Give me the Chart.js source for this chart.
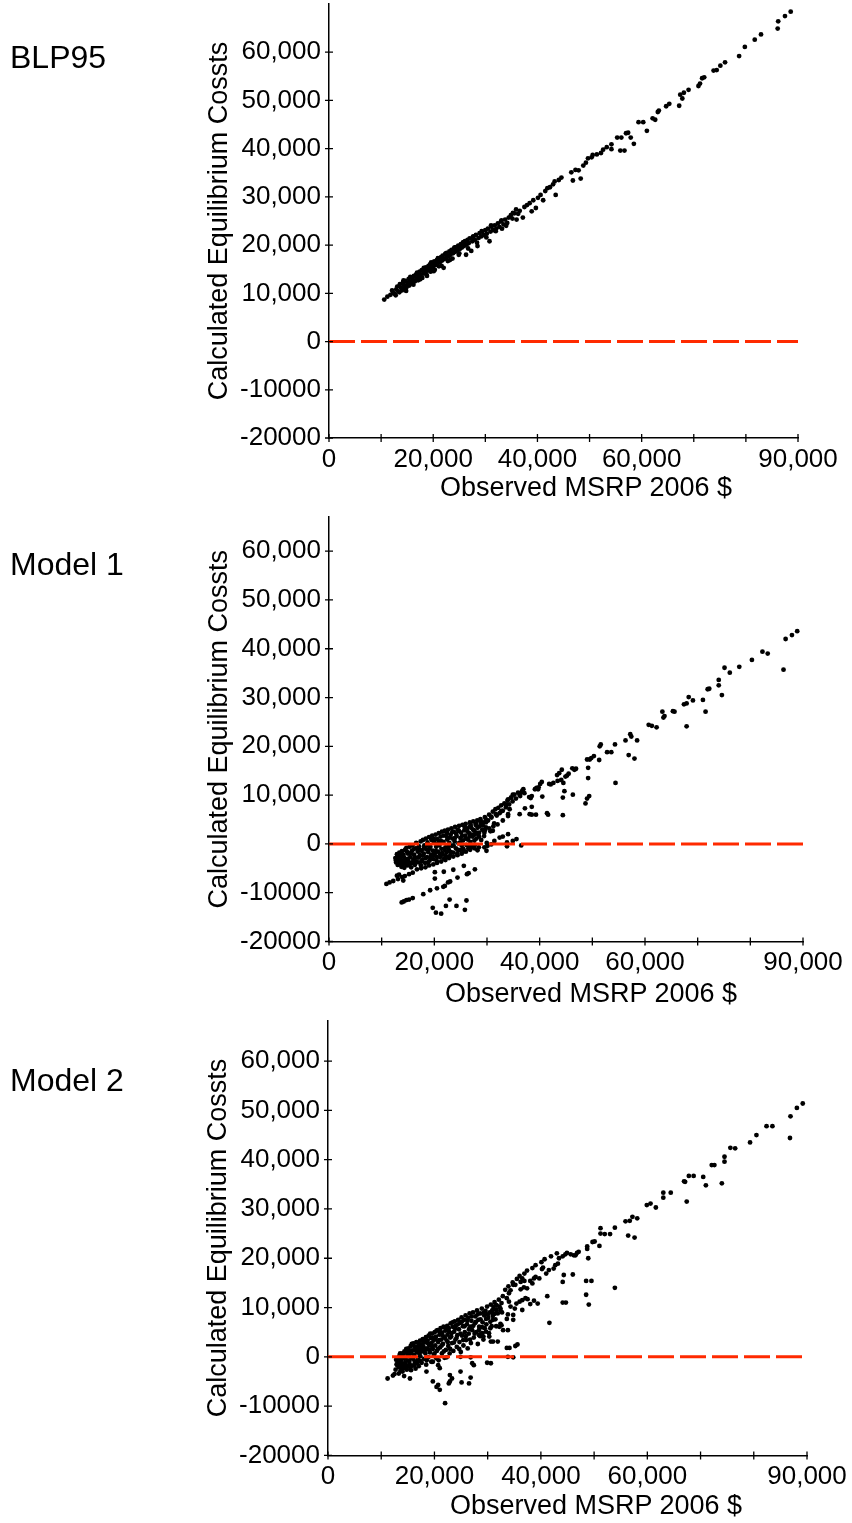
<!DOCTYPE html>
<html>
<head>
<meta charset="utf-8">
<script src="https://cdn.jsdelivr.net/npm/chart.js@4.4.1/dist/chart.umd.min.js"></script>
<style>
html,body{margin:0;padding:0;background:#fff;}
body{width:852px;height:1523px;position:relative;overflow:hidden;font-family:"Liberation Sans",Arial,Helvetica,sans-serif;color:#000;}
canvas{position:absolute;left:0;}
.lbl{position:absolute;left:10px;font-size:32px;line-height:1;white-space:nowrap;}
.xt{position:absolute;width:400px;font-size:27px;line-height:1;text-align:center;white-space:nowrap;}
</style>
</head>
<body>
<canvas id="c1" width="852" height="505" style="top:0px"></canvas>
<canvas id="c2" width="852" height="505" style="top:505px"></canvas>
<canvas id="c3" width="852" height="513" style="top:1010px"></canvas>
<div class="lbl" style="top:41px">BLP95</div>
<div class="lbl" style="top:548px">Model 1</div>
<div class="lbl" style="top:1064px">Model 2</div>
<div class="xt" style="left:386px;top:474px">Observed MSRP 2006 $</div>
<div class="xt" style="left:391px;top:980px">Observed MSRP 2006 $</div>
<div class="xt" style="left:396px;top:1492px">Observed MSRP 2006 $</div>
<script>
// ---------------- DATA ----------------
const yTitle = 'Calculated Equilibrium Cossts';
const xTickValues = [0,10000,20000,30000,40000,50000,60000,70000,80000,90000];
const xLabelValues = [0,20000,40000,60000,90000];
const yTickValues = [-20000,-10000,0,10000,20000,30000,40000,50000,60000];
const zeroLine = [[0,0],[90000,0]];

// BLP95: [observed MSRP, calculated cost]
const blp95Points = [
[10600,8700],[11200,9300],[11800,9700],[12300,10100],[12600,9900],[12900,10800],[13100,11400],[13300,10400],[13600,11900],[13800,11200],
[14000,10600],[14200,12300],[14400,11700],[14500,10900],[14700,12600],[14900,11300],[15100,12100],[15300,13000],[15400,11600],[15600,12400],
[15800,13300],[16000,12000],[16100,12800],[16300,13600],[16500,12500],[16700,13900],[16800,13100],[17000,14200],[17100,12700],[17300,13500],
[17400,14500],[17600,13800],[17800,14800],[17900,13200],[18100,14100],[18300,15100],[18400,14400],[18600,15400],[18700,13900],[18900,14700],
[19100,15700],[19200,15000],[19400,16000],[19500,14500],[19700,15300],[19900,16300],[20000,15600],[20200,16600],[20300,14900],[20500,15900],
[20700,16900],[20800,16200],[21000,17200],[21100,15600],[21300,16500],[21500,17500],[21700,16800],[21800,17800],[22000,15300],[22100,17100],
[22300,18100],[22500,17400],[22600,18400],[22800,16700],[23000,17700],[23100,18700],[23300,18000],[23500,19000],[23700,17200],[23800,18300],
[24000,19300],[24200,18600],[24400,19600],[24600,18900],[24800,19900],[25000,18300],[25100,19200],[25300,20200],[25500,19500],[25700,20500],
[25900,19800],[26100,20800],[26300,18000],[26400,20100],[26600,21100],[26800,20400],[27000,21400],[27300,18800],[27500,20800],[27700,21800],
[28000,21100],[28200,22100],[28500,19800],[28700,21500],[28900,22500],[29200,21800],[29400,22800],[29700,22100],[30000,23100],[30300,22400],
[30500,23400],[30800,20800],[31000,22800],[31200,23800],[31500,23100],[31800,24100],[32100,23400],[32400,24500],[32700,23800],[33000,24900],
[33200,23400],[33500,24300],[33800,25300],[34200,24600],[34500,25700],[34900,26200],[35200,25500],[35600,26600],[35900,27400],[36300,26500],
[36600,27100],[37200,25700],[37500,27900],[38000,28300],[38500,28700],[38900,27000],[39200,29300],[39700,27700],[40100,29800],[40600,30400],
[41100,29300],[41500,31200],[41900,31800],[42400,32000],[43000,32600],[43300,33200],[43500,30400],[44100,33500],[44600,34000],[46500,35100],
[46800,33400],[47300,35600],[47900,35500],[48300,33800],[48800,36500],[49300,37100],[49700,38000],[50400,38200],[50600,38700],[51400,38800],
[52200,39100],[52600,39800],[53300,40300],[54200,40900],[54200,39900],[55300,42300],[55900,39600],[56700,39600],[56100,42300],[57000,43200],
[57400,43300],[57900,42300],[58500,41000],[59400,45500],[60300,45500],[61000,43700],[62100,46300],[62600,46000],[63100,47600],[63300,47900],
[64700,48800],[65300,49300],[67200,48900],[67800,50400],[67400,51200],[68100,51600],[69000,52200],[70900,53000],[71200,53500],[71600,54600],
[72000,54800],[73800,56200],[74400,56300],[75100,57200],[76000,57900],[78700,59200],[79800,61100],[81700,62600],[82900,63700],[86100,64900],
[86200,66400],[87500,67500],[88600,68400],
[12100,10600],[12800,9600],[13500,10200],[14300,12700],[14800,10500],[15600,13400],[16200,11800],[16900,14300],[17500,12900],[18200,15300],
[18800,13600],[19600,16400],[20100,14600],[20900,17300],[21600,15700],[22400,18300],[23200,16900],[24100,19500],[24900,18000],[25800,20600],
[26700,19300],[27600,21700],[28400,20500],[29300,22900],[30200,21600],[31100,24100],[32000,22900],[33100,25100],[34000,24000],[35300,26700],
[36000,25300]
];

// Model 1
const model1Points = [
[88900,43600],[87900,42800],[86700,42000],[86300,35700],[83300,39000],[82300,39400],[80300,37700],[77900,36300],[75100,36100],[76100,35100],
[74000,33600],[74000,32500],[74600,30500],[71900,31700],[72200,31800],[71000,29500],[71500,27100],[69100,29400],[68300,30100],[67400,28600],
[67900,28800],[67900,24100],[65300,27200],[65600,27100],[63300,27100],[63500,25900],[63700,26200],[60700,24400],[61300,24200],[62200,23900],
[57200,22500],[57400,22000],[58500,21200],[56300,21200],[56900,18200],[58000,17500],[54300,20400],[54400,12500],[52800,18800],[53600,18800],
[51400,20000],[51600,20400],[51300,17200],[50300,18000],[49800,17600],[49500,17300],[49000,17300],[49200,15600],[49200,13500],[49400,9800],
[49000,9300],[48700,8300],[46900,15400],[46600,15200],[46200,15500],[45500,14400],[45200,14000],[44900,13800],[44200,15200],[43700,14500],
[43300,14100],[44100,13100],[43400,12900],[44500,12500],[44700,10800],[44400,9500],[46300,10100],[44400,5900],[42600,12500],[42100,12200],
[41800,12300],[40400,12700],[40100,12300],[39800,11600],[39400,11500],[39700,11200],[39100,11200],[41600,6000],[41400,6300],[40500,9700],
[38500,9800],[38300,9400],[38000,9600],[36900,11200],[36600,10600],[36200,10000],[38500,7600],[37200,7300],[39300,6000],[38500,6000],
[38100,6100],[36200,6100],[34900,10100],[34600,9500],[34000,9100],[33600,8100],[34300,7100],[34000,6100],
[36500,-300],[35600,1000],[34900,600],[33800,300],[33800,-500],[34000,2000],[33000,1500],[32400,1300],[31400,600],[30800,-100],
[30100,-400],[29500,-700],[28200,-1300],[29900,-1400],[31100,2700],
[32700,6700],[31700,6100],[30800,5600],[29800,5000],[28800,4700],[27900,4100],[26900,3900],[34000,5700],[33000,4800],[32000,4000],
[31200,3600],[30400,3200],[29600,2800],[28500,2300],[27600,1900],[26700,1500],
[10900,-8200],[11500,-7900],[12200,-7600],[13100,-7200],[13900,-6800],[14400,-6600],[15200,-6200],[15900,-5900],[16700,-5200],[17500,-5000],
[18300,-4800],[19000,-4400],[19800,-4200],[20500,-3900],[21300,-3600],[22100,-3300],[22800,-2900],[23600,-2600],[24400,-2300],[25200,-2000],
[26000,-1600],[26800,-1200],[27600,-900],
[13800,-12000],[14200,-11800],[14700,-11500],[15200,-11400],[15900,-11100],[17900,-10300],[19200,-9500],[20500,-9100],[21700,-8800],[22000,-8600],
[22600,-7900],[23000,-7700],[24400,-6900],[26200,-6200],[26500,-6000],[27700,-5200],
[19700,-13100],[20300,-14100],[21300,-14300],[22200,-12700],[22900,-11400],[24200,-12700],[25800,-13500],[26100,-11600],
[20100,-5800],[20100,-7100],[21800,-5700],[23600,-5300],[25600,-4500],[14100,-7500],[13300,-6300],[12900,-6500],
[12600,-2900],[12750,-3800],[12900,-2100],[13050,-4300],[13200,-3200],[13350,-1800],[13450,-3900],
[13600,-2600],[13750,-4700],[13850,-1500],[14000,-3500],[14150,-2200],[14300,-4900],[14450,-1200],
[14600,-3100],[14700,-800],[14850,-4400],[15000,-2000],[15150,-3700],[15300,-600],[15450,-2700],
[15600,-4800],[15700,-1500],[15850,-300],[16000,-3300],[16150,-2200],[16300,-4300],[16450,-900],
[16550,200],[16700,-2800],[16850,-1600],[16950,-3800],[17100,-500],[17250,-2300],[17400,500],[17450,-4400],
[17600,-1400],[17750,-3200],[17850,800],[18000,-2000],[18100,-300],[18250,-3900],[18400,1100],[18450,-1100],
[18600,-2700],[18700,300],[18850,-1700],[19000,1400],[19100,-3400],[19250,-600],[19400,-2300],[19450,900],
[19600,1700],[19700,-1400],[19850,-3100],[19950,400],[20100,-2000],[20250,1900],[20350,-600],[20450,-3500],
[20600,1000],[20700,-1600],[20850,2200],[20950,-300],[21100,-2700],[21200,1500],[21350,-1000],[21450,2500],
[21600,-2200],[21750,400],[21850,-3000],[22000,2700],[22100,-700],[22250,1600],[22350,-1700],[22450,900],
[22600,2900],[22750,-1200],[22850,200],[23000,-2400],[23100,1900],[23250,3200],[23350,-400],[23450,1100],
[23600,-1800],[23700,2500],[23850,500],[23950,3500],[24100,-900],[24250,1600],[24350,-2000],[24450,2900],
[24600,100],[24700,3700],[24850,-1300],[24950,1200],[25100,2300],[25200,-400],[25350,3900],[25450,700],
[25600,-1500],[25700,2800],[25850,1700],[25950,4100],[26100,-200],[26250,3200],[26350,900],[26450,-900],
[26600,2200],[26750,4400],[26850,400],[27000,3300],[27100,-600],[27250,1500],[27400,4600],
[27600,2700],[27700,-200],[27850,3900],[28000,1100],[28150,4800],[28300,2000],[28450,-700],
[28600,3600],[28750,5100],[28900,800],[29100,2900],[29250,4400],[29450,1600],[29600,5500],[29800,3400],[29950,200],
[30200,4800],[30400,6000],[30650,2600],[30850,5400],[31100,6600],[31350,4200],[31600,7100],[31850,5800],[32150,7400],[32400,6300],
[32700,7900],[33000,6800],[33300,8300],[33600,7500],[33900,8900],[34200,8100],[34550,9500],[34850,8700],[35200,10100],[35500,9300],
[35900,10500],[36300,9800],[36700,10900],[37100,10400],
[12700,-3400],[13000,-2500],[13300,-4000],[13550,-3200],[13800,-2100],[14050,-4200],[14250,-2800],[14500,-3900],[14800,-1600],[15050,-3000],
[15250,-4300],[15500,-1900],[15750,-3900],[16050,-1100],[16250,-2800],[16500,-3600],[16800,-900],[17050,-2800],[17300,-1300],[17550,-3600],
[17800,-2400],[18050,-800],[18350,-2900],[18550,-300],[18800,-3800],[19050,-1000],[19300,-2900],[19550,800],[19800,-2300],[20000,1000],
[20300,-1500],[20500,-2700],[20750,200],[21000,-2000],[21250,600],[21500,-1900],[21700,1700],[21950,-1200],[22200,-2500],[22400,2200],
[22650,-600],[22900,1300],[23150,-1700],[23400,2400],[23650,-300],[23900,1200],[24150,2100],[24400,-1200],[24650,2700],[24900,300],
[25250,1600],[25500,-1000],[25750,3500],[26000,1100],[26300,2500],[26550,-300],[26800,3600],[27050,1900],[27350,2900],[27600,700],
[27900,2300],[28200,3300],[28500,1500],[28800,4300],[29200,3800],[29500,2300],[29800,4400]
];

// Model 2
const model2Points = [
[89200,51400],[88100,50500],[86900,48800],[86800,44400],[83500,46800],[82400,46800],[80500,45000],[79300,43500],[76500,42300],[75600,42400],
[74500,40600],[74500,39600],[72600,38900],[72100,38900],
[70500,36500],[71000,34800],[74000,35200],[67800,36700],[68700,36700],[66900,35600],[67100,35500],[67400,31500],[64400,33300],[63000,33300],
[63000,32300],[61600,30300],[60600,31100],[59900,30800],[58100,28100],[57200,28400],[56700,27600],[55900,27500],[56400,24600],[57600,24200],
[53900,26200],[53000,24900],[52000,24900],[51200,26100],[51200,25000],[51000,22500],[50100,23400],[49700,23300],[48700,22400],[48700,21900],
[48900,20000],[53900,14000],[48500,15400],[49500,15400],[48500,12600],[49000,10600],[47100,21300],[46800,21100],[46500,20600],[46200,20600],
[45600,20800],[44900,21100],[44600,20800],[44100,20400],[43400,20000],[43200,18900],[42700,18600],[42400,17900],[44300,16600],[46000,16700],
[44100,15200],[44100,11000],[41500,17600],[41000,16900],[40400,18100],[40200,17800],[41200,12300],[41600,6900],[39700,15900],[39000,16200],
[38700,15900],[38400,14900],[38000,15400],[39400,10800],[38700,11400],[38000,10700],[37500,11700],[37100,11900],[36500,11500],[37400,13900],
[36800,14100],[36200,13700],[36900,15400],[36500,15900],[36200,15200],[36500,9500],[36000,11200],[35200,14600],[34800,14600],[34300,13500],
[34000,12900],[33600,11900],[34000,11200],[34300,10200],[33800,8600],[33600,7700],[32900,5400],[32400,9800],[31600,10500],[31100,10200],
[30800,9100],[31600,6200],[32400,6700],[31000,7500],[30500,7100],[30600,3100],[31000,3100],[29900,-1200],[33600,1800],[34100,1800],
[35200,2200],[35600,2500],[33800,0],[29200,4100],[28600,4200],[44700,11000],
[11200,-4400],[12200,-3800],[12500,-3500],[13300,-3400],[14000,-3000],[14300,-3900],[14600,-2300],[14900,-2000],[15400,-4400],[15600,-2700],
[16200,-1700],[13000,-1700],[13700,-1300],[13000,-300],[13500,-100],[14000,700],[14600,1000],[14900,700],[16500,1400],[16900,1000],
[17500,1700],[16200,200],[16900,-600],[18500,-3000],[19700,-1000],[20700,-1700],[21000,-2300],[19700,-5000],[20400,-6100],[20700,-5700],
[21000,-6700],[22000,-9400],[22900,-3700],[23300,-4400],[22700,-5400],[22900,-5000],[24900,-3000],[25100,-5200],[26500,-5400],[26800,-4200],
[27100,-1300],[27400,-1700],[26800,-100],[24900,0],[22300,-100],[30600,-1300],[34800,-100],[31900,3100],[30300,4100],[28400,4400],
[29000,4800],[29700,5100],[32200,6100],[32600,6400],[33800,5400],[34800,7500],[34800,8500],[35100,9800],[35400,10800],
[12700,-2600],[12900,-1500],[13100,-400],[13300,-2100],[13450,300],
[13600,-2900],[13700,-800],[13900,-1700],[14050,400],[14200,-2300],[14350,1100],[14450,-400],
[14600,-1500],[14750,900],[14800,-2600],[14950,200],[15100,1700],[15250,-900],[15400,600],[15450,-2100],
[15550,2200],[15700,-300],[15800,1300],[15900,-1800],[16050,2700],[16150,400],[16300,-1000],[16400,1800],[16450,-2400],
[16600,3000],[16700,900],[16850,-600],[16900,2100],[17050,-1900],[17150,1500],[17300,3300],[17350,100],[17450,2500],
[17600,-1200],[17700,1100],[17800,3600],[17950,2000],[18050,-400],[18150,2900],[18300,700],[18400,4000],[18450,-1600],
[18600,1700],[18700,3300],[18850,-100],[18900,4300],[19050,2300],[19150,900],[19300,3800],[19400,-1000],[19450,2800],
[19600,4700],[19700,1600],[19850,3300],[19900,400],[20050,5000],[20150,2300],[20300,4100],[20350,-300],[20450,1200],
[20600,5400],[20700,3000],[20800,-700],[20950,4500],[21050,1900],[21150,5800],[21300,3500],[21400,700],[21450,4900],
[21600,2600],[21700,6100],[21850,4000],[21900,-200],[22050,5300],[22150,1400],[22300,3300],[22400,6300],[22450,4500],
[22600,2200],[22700,5800],[22850,700],[22950,3900],[23050,6800],[23200,4800],[23300,2800],[23450,6100],
[23550,1200],[23700,5100],[23800,7200],[23950,3500],[24050,6400],[24200,2000],[24300,4400],[24450,7500],
[24600,5600],[24700,3000],[24850,6900],[24950,1000],[25100,8000],[25200,4300],[25350,6200],[25450,2300],
[25600,7500],[25700,5000],[25850,8400],[25950,3400],[26100,6600],[26250,1700],[26350,7900],[26450,4700],
[26600,8800],[26750,6100],[26850,2800],[26950,7300],[27100,5400],[27250,9000],[27400,3900],
[27600,6800],[27700,8200],[27850,5000],[28000,9400],[28150,2600],[28250,7500],[28400,6100],
[28600,8800],[28700,4600],[28900,9800],[29050,7000],[29200,3500],[29350,8400],[29450,5800],
[29600,9300],[29750,6600],[29900,10200],[30100,7900],[30250,4800],[30400,9000],
[30600,10600],[30750,6200],[30950,8300],[31100,9700],[31300,11100],[31450,7600],
[31700,10400],[31900,8800],[32100,11600],[32400,9400],[32600,10900],[32850,12300],
[33300,13600],[33900,14300],[34700,15100],[35500,15800],[36000,16400],[36900,16900],[37400,17500],[38400,18000],[39000,18600],[40100,19200],
[40700,19800],[41900,20400],[43000,21000],
[12800,-600],[13250,-1200],[13550,700],[13800,-2200],[14100,-300],[14400,-1300],[14700,1600],[15000,-700],[15200,1000],[15350,-1500],
[15650,800],[15750,2600],[16000,-400],[16250,2100],[16550,1300],[16750,-1300],[17000,2800],[17200,600],[17400,-900],[17650,2400],
[17900,3100],[18200,1300],[18350,3500],[18550,-700],[18800,2700],[19000,1400],[19200,4700],[19550,2100],[19750,3800],[20000,700],
[20200,3600],[20400,5300],[20650,1600],[20900,3400],[21100,5000],[21350,2300],[21550,4300],[21750,1100],[22000,3800],[22200,5700],
[22500,3000],[22750,5100],[22950,1600],[23150,4100],[23400,7000],[23650,2900],[23900,5700],[24150,3800],[24400,6600],[24650,1600],
[24900,4700],[25150,7100],[25400,3400],[25650,6200],[25900,4200],[26200,7300],[26500,5600],[26700,3500],[27000,8200],[27300,6300],
[27550,4700],[27800,7100],[28100,8600],[28350,5400],[28650,7600],[28950,6000],[29300,9000],[29700,7700],[30050,8600],[30500,5800],
[30850,9400],[31250,8700],[31600,9500],[32200,10200],[32700,9000]
];

// ---------------- RENDERING ----------------
Chart.defaults.font.family = '"Liberation Sans", Arial, Helvetica, sans-serif';
Chart.defaults.font.size = 26;
Chart.defaults.color = '#000';

const fmtY = v => v > 0 ? Number(v).toLocaleString('en-US') : String(v);
const fmtX = v => xLabelValues.includes(v) ? Number(v).toLocaleString('en-US') : '';

const crossTicks = {
  id: 'crossTicks',
  afterDraw(chart) {
    const ctx = chart.ctx, xs = chart.scales.x, ys = chart.scales.y;
    ctx.save();
    ctx.strokeStyle = '#000';
    ctx.lineWidth = 1.3;
    ctx.beginPath();
    xs.ticks.forEach(t => {
      const px = xs.getPixelForValue(t.value);
      ctx.moveTo(px, xs.top - 4); ctx.lineTo(px, xs.top + 4);
    });
    ys.ticks.forEach(t => {
      const py = ys.getPixelForValue(t.value);
      ctx.moveTo(ys.right - 4, py); ctx.lineTo(ys.right + 4, py);
    });
    ctx.stroke();
    ctx.restore();
  }
};

function makePanel(id, points, L) {
  const canvas = document.getElementById(id);
  const H = canvas.height;
  return new Chart(canvas, {
    type: 'scatter',
    data: {
      datasets: [
        { type: 'line', data: zeroLine.map(([x, y]) => ({x, y})), borderColor: '#ff2a00', borderWidth: 3,
          borderDash: [26, 6], pointRadius: 0, fill: false, order: 0, clip: false },
        { data: points.map(([x, y]) => ({x, y})), backgroundColor: '#000', borderWidth: 0,
          pointRadius: 2.4, order: 1 }
      ]
    },
    options: {
      responsive: false, animation: false, devicePixelRatio: 1,
      layout: { padding: { left: L.left, top: L.areaTop, right: 852 - L.areaRight, bottom: 0 } },
      plugins: { legend: { display: false }, tooltip: { enabled: false } },
      scales: {
        x: {
          type: 'linear', min: 0, max: 90000,
          grid: { display: false, drawTicks: false },
          border: { display: true, color: '#000', width: 1.5 },
          ticks: { autoSkip: false, maxRotation: 0, padding: 6, callback: fmtX },
          afterBuildTicks: s => { s.ticks = xTickValues.map(v => ({value: v})); },
          afterFit: s => { s.height = H - L.areaBottom; s.paddingLeft = 0; s.paddingRight = 0; }
        },
        y: {
          type: 'linear', min: -20000, max: L.yMax,
          grid: { display: false, drawTicks: false },
          border: { display: true, color: '#000', width: 1.5 },
          ticks: { autoSkip: false, padding: 8, callback: fmtY },
          afterBuildTicks: s => { s.ticks = yTickValues.map(v => ({value: v})); },
          title: { display: true, text: yTitle, padding: 0, font: { size: 27 } },
          afterFit: s => { s.width = L.areaLeft - L.left; s.paddingTop = 0; s.paddingBottom = 0; }
        }
      }
    },
    plugins: [crossTicks]
  });
}

makePanel('c1', blp95Points,  { left: 203, areaLeft: 329, areaRight: 798, areaTop: 4,    areaBottom: 438,   yMax: 70000 });
makePanel('c2', model1Points, { left: 203, areaLeft: 329, areaRight: 803, areaTop: 12,   areaBottom: 436.5, yMax: 67000 });
makePanel('c3', model2Points, { left: 202, areaLeft: 328, areaRight: 807, areaTop: 10.7, areaBottom: 445.4, yMax: 68200 });
</script>
</body>
</html>
